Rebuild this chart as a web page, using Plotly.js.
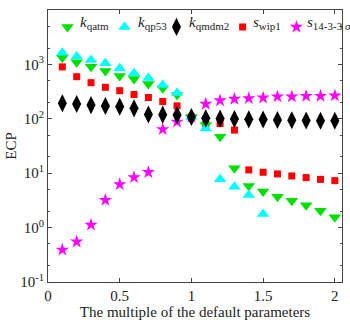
<!DOCTYPE html>
<html>
<head>
<meta charset="utf-8">
<script src="https://cdn.plot.ly/plotly-3.0.1.min.js"></script>
<style>html,body{margin:0;padding:0;background:#fff;}#chart{width:350px;height:325px;}</style>
</head>
<body>
<div id="chart"></div>
<script>
// multiples of default parameters
const xVals = [0.1,0.2,0.3,0.4,0.5,0.6,0.7,0.8,0.9,1.0,1.1,1.2,1.3,1.4,1.5,1.6,1.7,1.8,1.9,2.0];
const kQatm  = [1330,1090,910,760,610,540,436,364,274,108,77,47,12.3,5.8,4.6,3.7,3.1,2.57,2.05,1.55];
const kQp53X = [0.1,0.2,0.3,0.4,0.5,0.6,0.7,0.8,0.9,1.0,1.1,1.2,1.3,1.4,1.5];
const kQp53  = [1640,1390,1200,1050,850,690,562,418,298,108,66,7.7,5.65,3.97,1.78];
const kQmdm2 = [193,187,179,172,167,156,120,119,117,108,102,101,99,98,97,95,94,93,92,92];
const sWip1  = [900,594,461,379,329,280,246,208,173,108,80,82,62,11.5,10.4,9.7,8.9,8.3,7.7,7.3];
const s1433  = [0.39,0.55,1.12,3.2,6.25,8.4,10.4,64,88,108,187,217,231,238,244,255,255,262,262,266];
const yTickVals = [0.1,1,10,100,1000,10000];
const yTickText = ['10<sup>-1</sup>','10<sup>0</sup>','10<sup>1</sup>','10<sup>2</sup>','10<sup>3</sup>','10<sup>4</sup>'];
const xTickVals = [0,0.5,1,1.5,2];
const xTickText = ['0','0.5','1','1.5','2'];
// legend labels (order: k_qatm, k_qp53, k_qmdm2, s_wip1, s_14-3-3σ)
const sub = t => '<sub><span style="font-size:11px">' + t + '</span></sub>';
const legendLabels = ['<i>k</i>' + sub('qatm'), '<i>k</i>' + sub('qp53'), '<i>k</i>' + sub('qmdm2'),
                      '<i>s</i>' + sub('wip1'), '<i>s</i>' + sub('14-3-3 <i>σ</i>')];

const FONT = 'Liberation Serif, Times New Roman, serif';

const traces = [
  {x:xVals, y:s1433, name:' ', legend:'legend5',
   mode:'markers', type:'scatter', marker:{symbol:'star', size:10, color:'#ff00ff'}},
  {x:xVals, y:sWip1, name:' ', legend:'legend4',
   mode:'markers', type:'scatter', marker:{symbol:'square', size:7, color:'#ff0000'}},
  {x:xVals, y:kQatm, name:' ', legend:'legend',
   mode:'markers', type:'scatter', marker:{symbol:'triangle-down', size:11, color:'#00e000'}},
  {x:kQp53X, y:kQp53, name:' ', legend:'legend2',
   mode:'markers', type:'scatter', marker:{symbol:'triangle-up', size:11, color:'#00ffff'}},
  {x:xVals, y:kQmdm2, name:' ', legend:'legend3',
   mode:'markers', type:'scatter', marker:{symbol:'diamond-tall', size:13, color:'#000000'}}
];

function leg(x){
  return {orientation:'h', x:x, y:0.995, xanchor:'left', yanchor:'top',
          bgcolor:'rgba(0,0,0,0)', font:{family:FONT, size:14, color:'#222'}, itemwidth:30};
}

const symX = [-0.0017, 0.1922, 0.369, 0.594, 0.777];
const txtX = [0.102, 0.299, 0.473, 0.690, 0.874];

const layout = {
  width:350, height:325,
  margin:{l:48, r:8, t:10, b:43, autoexpand:false},
  paper_bgcolor:'#fff', plot_bgcolor:'#fff',
  font:{family:FONT, size:13, color:'#222'},
  showlegend:true,
  legend:leg(symX[0]),
  legend2:leg(symX[1]),
  legend3:leg(symX[2]),
  legend4:leg(symX[3]),
  legend5:leg(symX[4]),
  annotations: legendLabels.map((t,i) => ({
    xref:'paper', yref:'paper', x:txtX[i], y:0.952, xanchor:'left', yanchor:'middle',
    text:t, showarrow:false, font:{family:FONT, size:15, color:'#222'}
  })),
  xaxis:{range:[0,2.05], tickvals:xTickVals, ticktext:xTickText,
         ticks:'inside', ticklen:4, tickcolor:'#444', showline:true, linecolor:'#444', linewidth:1,
         mirror:'ticks', showgrid:false, zeroline:false,
         tickfont:{family:FONT, size:15, color:'#222'},
         title:{text:'The multiple of the default parameters', font:{family:FONT, size:15, color:'#222'}, standoff:3}},
  yaxis:{type:'log', range:[-1,4], tickvals:yTickVals, ticktext:yTickText,
         ticks:'inside', ticklen:4, tickcolor:'#444', showline:true, linecolor:'#444', linewidth:1,
         mirror:'ticks', showgrid:false, zeroline:false,
         minor:{ticks:'inside', ticklen:2, tickcolor:'#444', showgrid:false},
         tickfont:{family:FONT, size:15, color:'#222'},
         title:{text:'ECP', font:{family:FONT, size:15, color:'#222'}, standoff:0}}
};

Plotly.newPlot('chart', traces, layout, {displayModeBar:false, staticPlot:true});
</script>
</body>
</html>
